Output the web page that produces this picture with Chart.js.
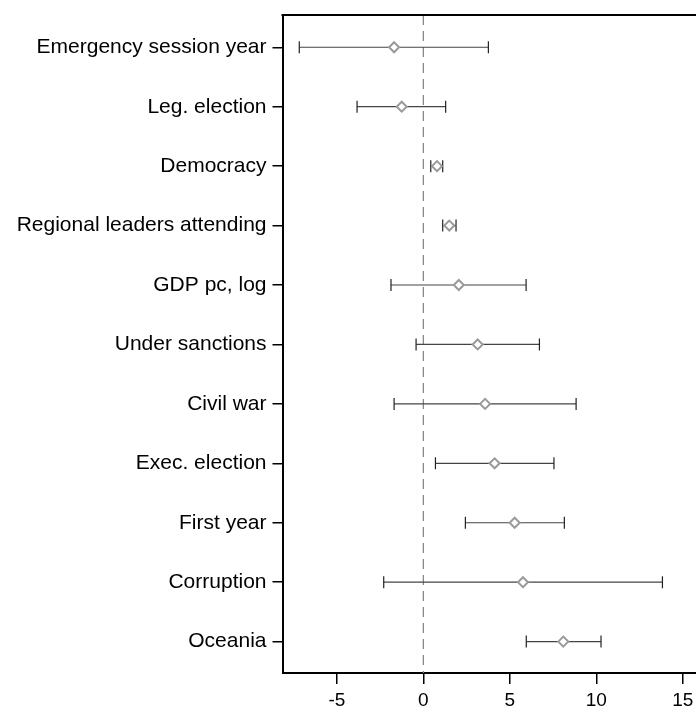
<!DOCTYPE html>
<html>
<head>
<meta charset="utf-8">
<script src="https://cdn.jsdelivr.net/npm/chart.js@4"></script>
<style>
  html, body { margin: 0; padding: 0; background: #fff; overflow: hidden; }
  #wrap { width: 696px; height: 707px; }
</style>
</head>
<body>
<div id="wrap"><canvas id="c" width="696" height="707"></canvas></div>
<script>
// Coefficient estimates with 95% confidence intervals
const labels = [
  "Emergency session year",
  "Leg. election",
  "Democracy",
  "Regional leaders attending",
  "GDP pc, log",
  "Under sanctions",
  "Civil war",
  "Exec. election",
  "First year",
  "Corruption",
  "Oceania"
];
const estimates = [-1.69, -1.25, 0.79, 1.50, 2.05, 3.14, 3.57, 4.12, 5.28, 5.76, 8.09];
const lower     = [-7.17, -3.83, 0.43, 1.12, -1.87, -0.42, -1.69, 0.70, 2.43, -2.29, 5.95];
const upper     = [ 3.76,  1.29, 1.12, 1.89,  5.94,  6.71,  8.83, 7.55, 8.15, 13.82, 10.27];
const xTicks = [-5, 0, 5, 10, 15];

const FONT = "'Liberation Sans', Helvetica, Arial, sans-serif";

const points = estimates.map((v, i) => ({ x: v, y: i }));

// Whiskers, the reference line at zero and the top frame line
const intervalPlugin = {
  id: 'intervals',
  beforeDatasetsDraw(chart) {
    const { ctx, chartArea, scales: { x, y } } = chart;
    ctx.save();
    // dashed line at zero
    const x0 = x.getPixelForValue(0);
    ctx.strokeStyle = '#808080';
    ctx.lineWidth = 1.2;
    ctx.setLineDash([10, 6]);
    ctx.beginPath();
    ctx.moveTo(x0, chartArea.top);
    ctx.lineTo(x0, chartArea.bottom);
    ctx.stroke();
    ctx.setLineDash([]);
    // confidence intervals
    ctx.lineWidth = 1.2;
    for (let i = 0; i < labels.length; i++) {
      const yy = y.getPixelForValue(i);
      const xl = x.getPixelForValue(lower[i]);
      const xh = x.getPixelForValue(upper[i]);
      ctx.strokeStyle = '#444';
      ctx.beginPath();
      ctx.moveTo(xl, yy); ctx.lineTo(xh, yy);
      ctx.stroke();
      ctx.strokeStyle = '#222';
      ctx.beginPath();
      ctx.moveTo(xl, yy - 6); ctx.lineTo(xl, yy + 6);
      ctx.moveTo(xh, yy - 6); ctx.lineTo(xh, yy + 6);
      ctx.stroke();
    }
    ctx.restore();
  },
  afterDraw(chart) {
    const { ctx, chartArea } = chart;
    ctx.save();
    ctx.strokeStyle = '#000';
    ctx.lineWidth = 2;
    ctx.beginPath();
    ctx.moveTo(chartArea.left - 1, chartArea.top);
    ctx.lineTo(chartArea.right, chartArea.top);
    ctx.stroke();
    ctx.restore();
  }
};

new Chart(document.getElementById('c'), {
  type: 'scatter',
  data: {
    datasets: [{
      data: points,
      pointStyle: 'rectRot',
      pointRadius: 5,
      pointHoverRadius: 5,
      pointBorderWidth: 2,
      pointBorderColor: '#9a9a9a',
      pointBackgroundColor: '#fff'
    }]
  },
  options: {
    responsive: false,
    animation: false,
    events: [],
    layout: { autoPadding: false, padding: { top: 15, right: 0, left: 0, bottom: 0 } },
    plugins: { legend: { display: false }, tooltip: { enabled: false } },
    scales: {
      x: {
        type: 'linear',
        min: -8.14,
        max: 15.76,
        afterBuildTicks(scale) { scale.ticks = xTicks.map(v => ({ value: v })); },
        afterFit(scale) {
          scale.height = 34;
          scale.paddingLeft = 0;
          scale.paddingRight = 0;
        },
        grid: { display: true, drawOnChartArea: false, drawTicks: true, tickLength: 11, color: '#000', lineWidth: 1.5 },
        border: { display: true, color: '#000', width: 2 },
        ticks: { color: '#000', font: { family: FONT, size: 19 }, padding: 5, maxRotation: 0 }
      },
      y: {
        type: 'linear',
        reverse: true,
        min: -0.543,
        max: 10.528,
        afterBuildTicks(scale) { scale.ticks = labels.map((_, i) => ({ value: i })); },
        afterFit(scale) {
          scale.width = 282.5;
          scale.paddingTop = 0;
          scale.paddingBottom = 0;
        },
        grid: { display: true, drawOnChartArea: false, drawTicks: true, tickLength: 10, color: '#000', lineWidth: 1.5 },
        border: { display: true, color: '#000', width: 2 },
        ticks: {
          color: '#000',
          font: { family: FONT, size: 21 },
          padding: 6,
          callback: (v) => labels[v]
        }
      }
    }
  },
  plugins: [intervalPlugin]
});
</script>
</body>
</html>
